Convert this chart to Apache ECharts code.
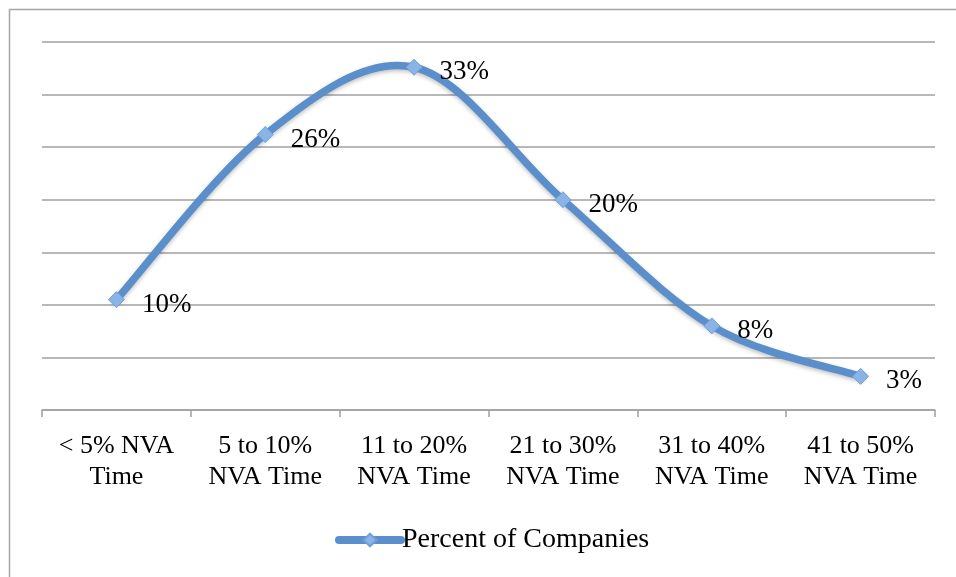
<!DOCTYPE html>
<html>
<head>
<meta charset="utf-8">
<script src="https://cdn.jsdelivr.net/npm/echarts@6/dist/echarts.min.js"></script>
<style>html,body{margin:0;padding:0;background:#fff}#c{width:956px;height:577px}</style>
</head>
<body>
<div id="c"></div>
<script>
var categories = ['< 5% NVA\nTime', '5 to 10%\nNVA Time', '11 to 20%\nNVA Time', '21 to 30%\nNVA Time', '31 to 40%\nNVA Time', '41 to 50%\nNVA Time'];
var values = [0.105, 0.262, 0.326, 0.200, 0.080, 0.032];
var labels = ['10%', '26%', '33%', '20%', '8%', '3%'];
var seriesName = 'Percent of Companies';

var font = '"Liberation Serif", "DejaVu Serif", serif';
var lineColor = '#5B8FCB';
var chart = echarts.init(document.getElementById('c'), null, {renderer: 'canvas'});

function renderCurve(params, api) {
  if (params.dataIndex !== 0) return;
  var pts = values.map(function (v, i) { return api.coord([i, v]); });
  var n = pts.length;
  var d = 'M' + pts[0][0] + ' ' + pts[0][1];
  for (var i = 0; i < n - 1; i++) {
    var p0 = pts[Math.max(i - 1, 0)], p1 = pts[i], p2 = pts[i + 1], p3 = pts[Math.min(i + 2, n - 1)];
    var c1x = p1[0] + (p2[0] - p0[0]) / 6, c1y = p1[1] + (p2[1] - p0[1]) / 6;
    var c2x = p2[0] - (p3[0] - p1[0]) / 6, c2y = p2[1] - (p3[1] - p1[1]) / 6;
    d += ' C' + c1x + ' ' + c1y + ' ' + c2x + ' ' + c2y + ' ' + p2[0] + ' ' + p2[1];
  }
  return {
    type: 'path',
    shape: {pathData: d},
    style: {fill: 'none', stroke: lineColor, lineWidth: 7.5, lineCap: 'round',
            shadowColor: 'rgba(0,0,0,0.25)', shadowBlur: 4, shadowOffsetY: 2}
  };
}

chart.setOption({
  animation: false,
  backgroundColor: '#fff',
  graphic: [{
    type: 'rect', left: 7, top: 7,
    shape: {width: 1000, height: 1000},
    style: {fill: 'none', stroke: '#a6a6a6', lineWidth: 1.5},
    z: -10
  }],
  grid: {left: 42, right: 21, top: 42, bottom: 167},
  legend: {
    data: [seriesName],
    left: 330, top: 521,
    itemWidth: 62, itemHeight: 16, itemGap: 0,
    lineStyle: {color: lineColor, width: 8, opacity: 1, cap: 'round'},
    textStyle: {fontFamily: font, fontSize: 28, color: '#000', padding: [0, 0, 0, -4]}
  },
  xAxis: {
    type: 'category',
    data: categories,
    boundaryGap: true,
    axisLine: {lineStyle: {color: '#a0a0a0', width: 1.5}},
    axisTick: {show: true, length: 7, lineStyle: {color: '#a0a0a0', width: 1.5}},
    axisLabel: {fontFamily: font, fontSize: 26, color: '#000', lineHeight: 31, margin: 21, interval: 0}
  },
  yAxis: {
    type: 'value', min: 0, max: 0.35, interval: 0.05,
    axisLabel: {show: false},
    axisLine: {show: false},
    axisTick: {show: false},
    splitLine: {lineStyle: {color: '#a0a0a0', width: 1.5}}
  },
  series: [{
    name: '_curve',
    type: 'custom',
    renderItem: renderCurve,
    data: values.map(function (v, i) { return [i, v]; }),
    encode: {x: 0, y: 1},
    silent: true,
    z: 2
  }, {
    name: seriesName,
    type: 'line',
    data: values,
    symbol: 'diamond',
    symbolSize: 16,
    lineStyle: {color: lineColor, width: 7, opacity: 0},
    itemStyle: {color: '#8AB4E6', borderColor: '#6F9FD6', borderWidth: 1},
    z: 5,
    label: {
      show: true, position: 'right', distance: 17, offset: [0, 5],
      formatter: function (p) { return labels[p.dataIndex]; },
      fontFamily: font, fontSize: 27, color: '#000'
    }
  }]
});
</script>
</body>
</html>
